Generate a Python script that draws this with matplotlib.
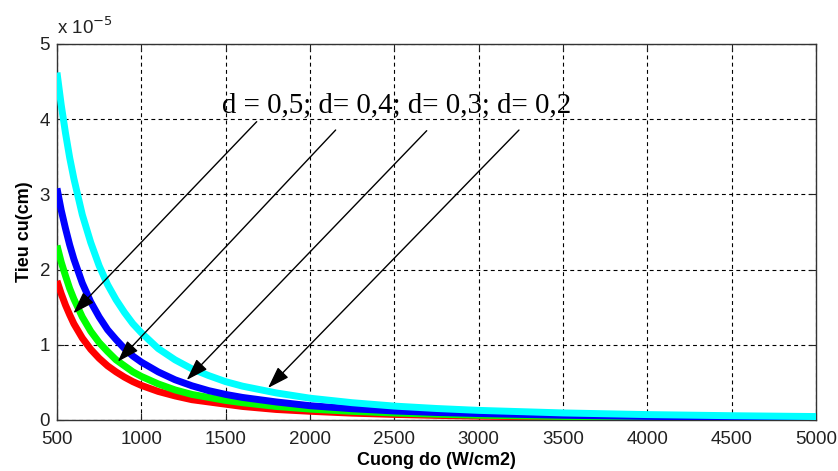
import matplotlib
matplotlib.use("Agg")
import matplotlib.pyplot as plt
from matplotlib.patches import ArrowStyle

# Intensity (W/cm2)
x_vals = [500, 525, 550, 575, 600, 650, 700, 750, 800, 850, 900, 950, 1000, 1100, 1200,
          1300, 1400, 1500, 1600, 1800, 2000, 2250, 2500, 2750, 3000, 3500, 4000, 4500, 5000]

# Focal length values in units of 1e-5 cm
d02_cyan = [4.62, 4.19, 3.82, 3.49, 3.21, 2.73, 2.36, 2.05, 1.80, 1.60, 1.43, 1.28, 1.16,
            0.95, 0.80, 0.68, 0.59, 0.51, 0.45, 0.36, 0.29, 0.23, 0.185, 0.153, 0.128,
            0.094, 0.072, 0.057, 0.046]
d03_blue = [3.08, 2.79, 2.55, 2.33, 2.14, 1.82, 1.57, 1.37, 1.20, 1.07, 0.95, 0.85, 0.77,
            0.64, 0.535, 0.455, 0.39, 0.34, 0.30, 0.24, 0.19, 0.15, 0.12, 0.10, 0.086,
            0.063, 0.048, 0.038, 0.031]
d04_green = [2.32, 2.10, 1.92, 1.75, 1.61, 1.37, 1.18, 1.03, 0.91, 0.80, 0.72, 0.64, 0.58,
             0.48, 0.40, 0.34, 0.30, 0.26, 0.23, 0.18, 0.145, 0.115, 0.093, 0.077, 0.064,
             0.047, 0.036, 0.029, 0.023]
d05_red = [1.85, 1.68, 1.53, 1.40, 1.28, 1.09, 0.94, 0.82, 0.72, 0.64, 0.57, 0.51, 0.46,
           0.38, 0.32, 0.27, 0.24, 0.21, 0.18, 0.14, 0.116, 0.091, 0.074, 0.061, 0.051,
           0.038, 0.029, 0.023, 0.018]

x_ticks = [500, 1000, 1500, 2000, 2500, 3000, 3500, 4000, 4500, 5000]
y_ticks = [0, 1, 2, 3, 4, 5]

annot_text = "d = 0,5; d= 0,4; d= 0,3; d= 0,2"
xlabel = "Cuong do (W/cm2)"
ylabel = "Tieu cu(cm)"

plt.rcParams['font.family'] = ['Liberation Sans', 'DejaVu Sans']

fig = plt.figure(figsize=(8.38, 4.71), dpi=100)
ax = fig.add_axes([57/838, 1-420/471, (816-57)/838, (420-44)/471])

lw = 5.0
ax.plot(x_vals, d05_red, color=(1, 0, 0), lw=lw, solid_capstyle='butt', solid_joinstyle='round', zorder=3)
ax.plot(x_vals, d04_green, color=(0, 1, 0), lw=lw, solid_capstyle='butt', solid_joinstyle='round', zorder=4)
ax.plot(x_vals, d03_blue, color=(0, 0, 1), lw=lw, solid_capstyle='butt', solid_joinstyle='round', zorder=5)
ax.plot(x_vals, d02_cyan, color=(0, 1, 1), lw=lw, solid_capstyle='butt', solid_joinstyle='round', zorder=6)

ax.set_xlim(500, 5000)
ax.set_ylim(0, 5)
ax.set_xticks(x_ticks)
ax.set_yticks(y_ticks)
ax.tick_params(direction='in', length=5, width=0.8, top=True, right=True,
               labelsize=13.5, colors='#222222')
ax.tick_params(axis='x', pad=8)
ax.tick_params(axis='y', pad=5)
ax.grid(True, color='black', linestyle=(0, (3.5, 3)), linewidth=0.8)
for s in ax.spines.values():
    s.set_color('#333333')
    s.set_linewidth(1.0)

ax.set_xlabel(xlabel, fontsize=13, fontweight='bold', labelpad=3)
ax.set_ylabel(ylabel, fontsize=13, fontweight='bold', labelpad=5)

# exponent label
fig.text(57/838, 1-34/471, r"x 10$^{-5}$", fontsize=13.5, ha='left', va='baseline',
         color='#222222')

ax.text(1478, 4.08, annot_text, fontsize=20.8, family=['Liberation Serif', 'DejaVu Serif'],
        ha='left', va='baseline', zorder=8)

style = ArrowStyle('-|>', head_length=0.9, head_width=0.3)
arrows = [((1684, 3.967), (597, 1.419)),
          ((2152, 3.856), (860, 0.775)),
          ((2692, 3.847), (1269, 0.532)),
          ((3239, 3.856), (1751, 0.426))]
for start, tip in arrows:
    ax.annotate("", xy=tip, xytext=start,
                arrowprops=dict(arrowstyle=style, mutation_scale=15, lw=1.0,
                                color='black', shrinkA=0, shrinkB=0),
                zorder=9)

fig.savefig("out.png", dpi=100)
